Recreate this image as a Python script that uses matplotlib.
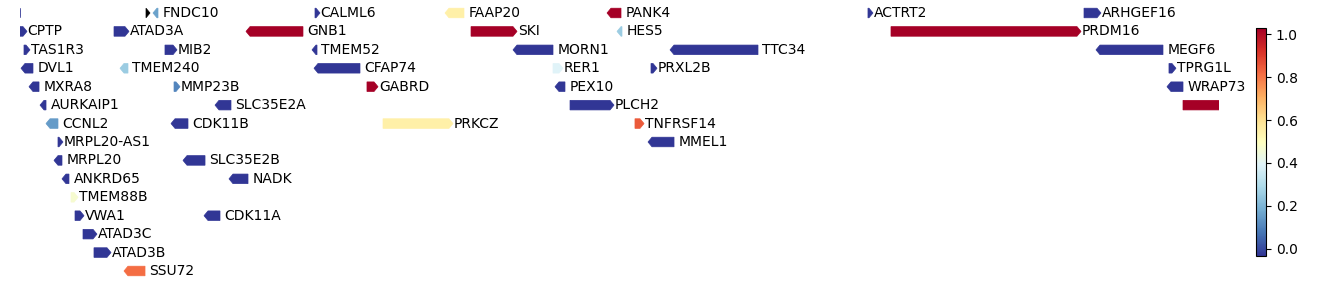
import numpy as np
import matplotlib
matplotlib.use("Agg")
import matplotlib.pyplot as plt
from matplotlib.patches import Polygon
from matplotlib.colors import Normalize
from matplotlib.cm import ScalarMappable

# ── gene track data (positions in kb, chr1) ──────────────────
names = ["", "", "FNDC10", "CALML6", "FAAP20", "PANK4", "ACTRT2", "ARHGEF16",
         "CPTP", "ATAD3A", "GNB1", "SKI", "HES5", "PRDM16",
         "TAS1R3", "MIB2", "TMEM52", "MORN1", "TTC34", "MEGF6",
         "DVL1", "TMEM240", "CFAP74", "RER1", "PRXL2B", "TPRG1L",
         "MXRA8", "MMP23B", "GABRD", "PEX10", "WRAP73",
         "AURKAIP1", "SLC35E2A", "PLCH2", "TP73",
         "CCNL2", "CDK11B", "PRKCZ", "TNFRSF14",
         "MRPL20-AS1", "MMEL1",
         "MRPL20", "SLC35E2B",
         "ANKRD65", "NADK",
         "TMEM88B",
         "VWA1", "CDK11A",
         "ATAD3C",
         "ATAD3B",
         "SSU72"]
starts = [1324.0, 1577.2, 1591.2, 1915.7, 2176.1, 2500.6, 3023.3, 3456.0,
          1324.8, 1513.1, 1777.5, 2228.2, 2520.6, 3069.4,
          1332.8, 1615.2, 1909.7, 2312.3, 2626.8, 3480.0,
          1326.8, 1525.1, 1913.7, 2392.4, 2588.7, 3626.2,
          1342.8, 1633.3, 2019.8, 2396.4, 3622.2,
          1364.9, 1715.4, 2426.5, 3654.3,
          1376.9, 1627.3, 2051.9, 2556.6,
          1400.9, 2582.7,
          1392.9, 1651.3,
          1408.9, 1743.4,
          1427.0,
          1435.0, 1693.4,
          1451.0,
          1473.0,
          1533.1]
ends = [1325.6, 1585.2, 1601.2, 1925.7, 2214.1, 2528.6, 3033.3, 3490.0,
        1338.8, 1543.1, 1891.6, 2320.3, 2530.6, 3450.0,
        1344.8, 1639.3, 1919.7, 2392.4, 2803.0, 3614.2,
        1350.8, 1541.1, 2005.8, 2412.4, 2600.7, 3640.2,
        1362.9, 1645.3, 2041.9, 2416.4, 3654.3,
        1376.9, 1747.4, 2514.6, 3768.5,
        1400.9, 1661.3, 2192.1, 2574.7,
        1410.9, 2634.8,
        1408.9, 1695.4,
        1422.9, 1781.5,
        1441.0,
        1453.0, 1725.4,
        1479.0,
        1507.1,
        1575.2]
strands = ["-", "+", "-", "+", "-", "-", "+", "+",
           "+", "+", "-", "+", "-", "+",
           "+", "+", "-", "-", "-", "-",
           "-", "-", "-", "+", "+", "+",
           "-", "+", "+", "-", "-",
           "-", "-", "+", "+",
           "-", "-", "+", "+",
           "+", "-",
           "-", "-",
           "-", "-",
           "+",
           "+", "-",
           "+",
           "+",
           "-"]
rows = [0, 0, 0, 0, 0, 0, 0, 0,
        1, 1, 1, 1, 1, 1,
        2, 2, 2, 2, 2, 2,
        3, 3, 3, 3, 3, 3,
        4, 4, 4, 4, 4,
        5, 5, 5, 5,
        6, 6, 6, 6,
        7, 7,
        8, 8,
        9, 9,
        10,
        11, 11,
        12,
        13,
        14]
values = [0.0, np.nan, 0.18, 0.0, 0.55, 1.0, 0.0, 0.0,
          0.0, 0.0, 1.0, 1.0, 0.27, 1.0,
          0.0, 0.0, 0.0, 0.0, 0.0, 0.0,
          0.0, 0.27, 0.0, 0.40, 0.0, 0.0,
          0.0, 0.13, 1.0, 0.0, 0.0,
          0.0, 0.0, 0.0, 1.0,
          0.17, 0.0, 0.55, 0.83,
          0.0, 0.0,
          0.0, 0.0,
          0.0, 0.0,
          0.47,
          0.0, 0.0,
          0.0,
          0.0,
          0.80]

XMIN, XMAX = 1324.8, 3726.4
CB_MIN, CB_MAX = -0.035, 1.03

cmap = plt.get_cmap("RdYlBu_r")
gene_norm = Normalize(vmin=0.0, vmax=1.0)

fig = plt.figure(figsize=(13.38, 2.85), dpi=100)
ax = fig.add_axes([20 / 1338, 0.0, 1199 / 1338, 1.0])

half_h = 0.26   # half gene height (rows)
tip = 8.0       # arrow tip length (kb)

for name, s, e, st, r, v in zip(names, starts, ends, strands, rows, values):
    color = cmap(gene_norm(v)) if not np.isnan(v) else "black"
    t = min(tip, e - s)
    if st == "+":
        pts = [(s, r - half_h), (e - t, r - half_h), (e, r),
               (e - t, r + half_h), (s, r + half_h)]
        lx = e + 1.5
    else:
        pts = [(e, r - half_h), (s + t, r - half_h), (s, r),
               (s + t, r + half_h), (e, r + half_h)]
        lx = e + 9.0
    ax.add_patch(Polygon(pts, closed=True, facecolor=color,
                         edgecolor=color, linewidth=0.5))
    # only label genes that end inside the window
    if name and e <= XMAX:
        ax.text(lx, r, name, fontsize=10, va="center", ha="left",
                clip_on=False)

ax.set_xlim(XMIN, XMAX)
ax.set_ylim(14.76, -0.705)
ax.axis("off")

# colorbar
cax = fig.add_axes([1256 / 1338, 1 - 256 / 285, 10 / 1338, 228 / 285])
cb = fig.colorbar(ScalarMappable(norm=Normalize(CB_MIN, CB_MAX), cmap=cmap),
                  cax=cax)
cb.set_ticks([0.0, 0.2, 0.4, 0.6, 0.8, 1.0])
cb.ax.tick_params(labelsize=10)

fig.savefig("out.png", dpi=100)
